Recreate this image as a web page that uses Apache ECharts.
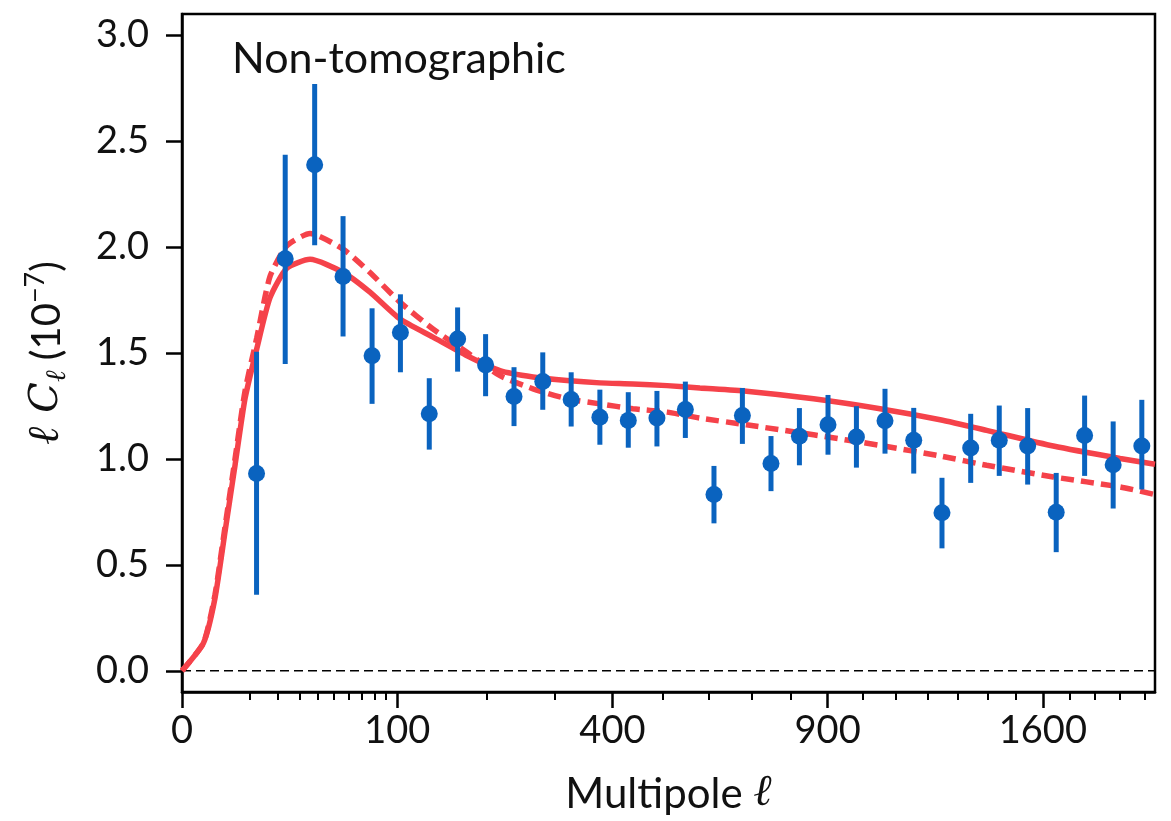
<!DOCTYPE html>
<html><head><meta charset="utf-8">
<script src="https://cdn.jsdelivr.net/npm/echarts@6/dist/echarts.min.js"></script>
<style>html,body{margin:0;padding:0;background:#fff}#c{width:1171px;height:821px}</style>
</head><body><div id="c"></div>
<script>
// ---- data (multipole ell, values in units of 1e-7) ----
const xTickLabels = [0, 100, 400, 900, 1600];
const xMinorTicks = [10, 20, 30, 40, 50, 60, 70, 80, 90, 200, 300, 500, 600, 700, 800,
  1000, 1100, 1200, 1300, 1400, 1500, 1700, 1800, 1900, 2000];
const yTickLabels = [0.0, 0.5, 1.0, 1.5, 2.0, 2.5, 3.0];
const xEllMax = 2044;
const zeroLevel = 0;

const binEll = [12, 23, 38, 56, 78, 103, 132, 164, 199, 238, 281, 327, 377, 430, 487, 547,
  611, 678, 749, 823, 901, 982, 1067, 1156, 1247, 1343, 1442, 1544, 1650, 1759, 1872, 1989];
const dataVal = [0.931, 1.945, 2.389, 1.861, 1.487, 1.597, 1.213, 1.566, 1.444, 1.295, 1.365, 1.281,
  1.197, 1.182, 1.193, 1.233, 0.832, 1.205, 0.978, 1.107, 1.161, 1.104, 1.180, 1.088,
  0.746, 1.052, 1.088, 1.061, 0.748, 1.111, 0.973, 1.061];
const errLow = [0.359, 1.448, 2.009, 1.578, 1.260, 1.409, 1.044, 1.412, 1.296, 1.155, 1.232, 1.153,
  1.067, 1.053, 1.059, 1.099, 0.696, 1.071, 0.848, 0.970, 1.020, 0.959, 1.025, 0.931,
  0.578, 0.887, 0.920, 0.879, 0.560, 0.920, 0.766, 0.856];
const errHigh = [1.506, 2.436, 2.770, 2.146, 1.711, 1.777, 1.381, 1.715, 1.589, 1.433, 1.503, 1.409,
  1.327, 1.315, 1.321, 1.365, 0.967, 1.335, 1.108, 1.240, 1.302, 1.249, 1.331, 1.241,
  0.911, 1.213, 1.252, 1.240, 0.934, 1.299, 1.177, 1.279];

const modelEll = [0, 1, 2.35, 4, 6.07, 8.57, 12.05, 16.7, 23.7, 35.4, 56.2, 76.3, 102.6, 136, 175.4,
  218.3, 266, 320, 377, 439, 508, 579, 688, 861, 1052, 1241, 1398, 1639, 1900, 2044];
const modelSolid = [0.0, 0.132, 0.343, 0.657, 0.970, 1.284, 1.519, 1.760, 1.900, 1.942, 1.880, 1.787,
  1.660, 1.575, 1.487, 1.417, 1.387, 1.370, 1.359, 1.354, 1.346, 1.335, 1.320, 1.284, 1.237,
  1.185, 1.135, 1.061, 1.002, 0.975];
const modelDashed = [0.0, 0.132, 0.360, 0.680, 1.000, 1.320, 1.570, 1.860, 2.005, 2.064, 1.989, 1.880,
  1.740, 1.613, 1.503, 1.393, 1.331, 1.284, 1.260, 1.237, 1.221, 1.193, 1.161, 1.114, 1.064,
  1.014, 0.970, 0.915, 0.868, 0.832];

// ---- styles ----
const BLUE = '#0a63bf';
const RED = '#f5424a';
const FONT = 'Lato';
const s = Math.sqrt; // square-root axis transform

const chart = echarts.init(document.getElementById('c'), null, {renderer: 'canvas'});
const baseX = {
  type: 'value', min: 0, max: s(xEllMax), position: 'bottom', gridIndex: 0,
  splitLine: {show: false}
};
chart.setOption({
  animation: false,
  backgroundColor: '#fff',
  grid: {left: 182, right: 16, top: 14, bottom: 127, show: true, borderColor: '#000', borderWidth: 2.5, backgroundColor: 'transparent'},
  xAxis: [
    Object.assign({}, baseX, {
      axisLine: {show: true, onZero: false, lineStyle: {color: '#000', width: 2.5}},
      axisTick: {show: true, length: 16, inside: false, lineStyle: {color: '#000', width: 2.5},
        customValues: xTickLabels.map(s)},
      axisLabel: {show: true, customValues: xTickLabels.map(s), margin: 20,
        formatter: v => String(Math.round(v * v)), fontFamily: FONT, fontSize: 38, color: '#111'},
      name: '{n|Multipole }{m|ℓ}', nameLocation: 'middle', nameGap: 80,
      nameTextStyle: {rich: {
        n: {fontFamily: FONT, fontSize: 42, color: '#111'},
        m: {fontFamily: 'DejaVu Serif', fontStyle: 'italic', fontSize: 44, color: '#111'}
      }}
    }),
    Object.assign({}, baseX, {
      axisLine: {show: false, onZero: false},
      axisTick: {show: true, length: 8, inside: false, lineStyle: {color: '#000', width: 2},
        customValues: xMinorTicks.map(s)},
      axisLabel: {show: false}
    })
  ],
  yAxis: {
    type: 'value', min: -0.1, max: 3.1,
    splitLine: {show: false},
    axisLine: {show: true, onZero: false, lineStyle: {color: '#000', width: 2.5}},
    axisTick: {show: true, length: 16, lineStyle: {color: '#000', width: 2.5}, customValues: yTickLabels},
    axisLabel: {customValues: yTickLabels, margin: 33, formatter: v => v.toFixed(1),
      fontFamily: FONT, fontSize: 38, color: '#111'},
    name: '{a|ℓ }{c|C}{sb|ℓ}{n| (10}{sp|−7}{n|)}', nameLocation: 'middle', nameRotate: 90, nameGap: 110,
    nameTextStyle: {rich: {
      a: {fontFamily: 'DejaVu Serif', fontStyle: 'italic', fontSize: 44, color: '#111', lineHeight: 50},
      c: {fontFamily: 'DejaVu Serif', fontStyle: 'italic', fontSize: 40, color: '#111', lineHeight: 50},
      sb: {fontFamily: 'DejaVu Serif', fontStyle: 'italic', fontSize: 28, color: '#111', verticalAlign: 'bottom', lineHeight: 50},
      n: {fontFamily: FONT, fontSize: 40, color: '#111', lineHeight: 50},
      sp: {fontFamily: FONT, fontSize: 27, color: '#111', verticalAlign: 'top', lineHeight: 50}
    }}
  },
  graphic: [{
    type: 'text', left: 232, top: 38,
    style: {text: 'Non-tomographic', font: '43px ' + FONT, fill: '#111'}
  }],
  series: [
    {
      type: 'custom', name: 'zero', xAxisIndex: 0, z: 1, silent: true,
      data: [[0, zeroLevel]],
      renderItem: (params, api) => {
        const cs = params.coordSys;
        const y = api.coord([0, api.value(1)])[1];
        return {type: 'line', shape: {x1: cs.x, y1: y, x2: cs.x + cs.width, y2: y},
          style: {stroke: '#000', lineWidth: 1.6, lineDash: [9, 5]}};
      }
    },
    {
      type: 'line', name: 'model solid', xAxisIndex: 0, z: 2,
      data: modelEll.map((l, i) => [s(l), modelSolid[i]]),
      showSymbol: false, smooth: 0.2,
      lineStyle: {color: RED, width: 5.5}
    },
    {
      type: 'line', name: 'model dashed', xAxisIndex: 0, z: 2,
      data: modelEll.map((l, i) => [s(l), modelDashed[i]]),
      showSymbol: false, smooth: 0.2,
      lineStyle: {color: RED, width: 5.5, type: [13, 7]}
    },
    {
      type: 'custom', name: 'errors', xAxisIndex: 0, z: 3,
      data: binEll.map((l, i) => [s(l), errLow[i], errHigh[i]]),
      encode: {x: 0, y: [1, 2]},
      renderItem: (params, api) => {
        const p1 = api.coord([api.value(0), api.value(1)]);
        const p2 = api.coord([api.value(0), api.value(2)]);
        return {type: 'line', shape: {x1: p1[0], y1: p1[1], x2: p2[0], y2: p2[1]},
          style: {stroke: BLUE, lineWidth: 5}};
      }
    },
    {
      type: 'scatter', name: 'data', xAxisIndex: 0, z: 4,
      data: binEll.map((l, i) => [s(l), dataVal[i]]),
      symbol: 'circle', symbolSize: 17, itemStyle: {color: BLUE, opacity: 1}
    }
  ]
});
</script>
</body></html>
